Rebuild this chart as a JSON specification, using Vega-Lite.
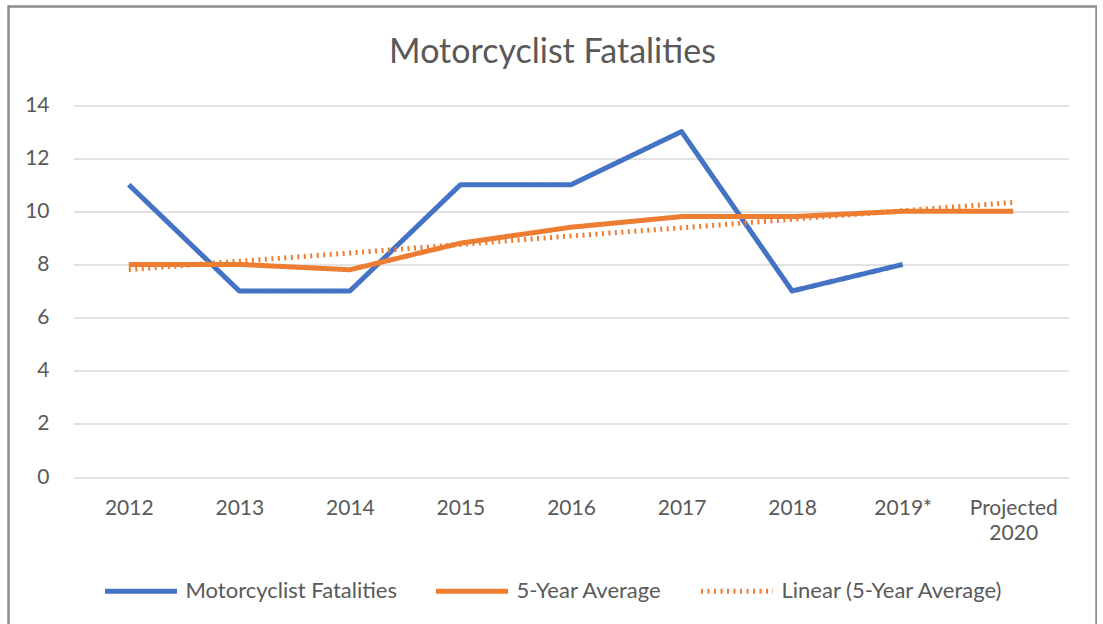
{
  "$schema": "https://vega.github.io/schema/vega-lite/v6.json",
  "autosize": {"type": "none"},
  "width": 1088,
  "height": 620,
  "padding": {"left": 8.5, "top": 6.5, "right": 0, "bottom": 0},
  "background": "white",
  "config": {
    "view": {"stroke": "#8c8c8c", "strokeWidth": 2.5},
    "font": "Lato",
    "legend": {"orient": "none", "legendX": 94, "legendY": 546, "direction": "horizontal", "padding": 0, "labelLimit": 0}
  },
  "title": {
    "text": "Motorcyclist Fatalities",
    "fontSize": 34,
    "font": "Lato",
    "fontWeight": "normal",
    "color": "#595959",
    "anchor": "middle",
    "frame": "group",
    "offset": -90,
    "baseline": "alphabetic"
  },
  "data": {
    "values": [
      {"series": "Motorcyclist Fatalities", "year": "2012", "value": 11},
      {"series": "Motorcyclist Fatalities", "year": "2013", "value": 7},
      {"series": "Motorcyclist Fatalities", "year": "2014", "value": 7},
      {"series": "Motorcyclist Fatalities", "year": "2015", "value": 11},
      {"series": "Motorcyclist Fatalities", "year": "2016", "value": 11},
      {"series": "Motorcyclist Fatalities", "year": "2017", "value": 13},
      {"series": "Motorcyclist Fatalities", "year": "2018", "value": 7},
      {"series": "Motorcyclist Fatalities", "year": "2019*", "value": 8},
      {"series": "5-Year Average", "year": "2012", "value": 8},
      {"series": "5-Year Average", "year": "2013", "value": 8},
      {"series": "5-Year Average", "year": "2014", "value": 7.8},
      {"series": "5-Year Average", "year": "2015", "value": 8.8},
      {"series": "5-Year Average", "year": "2016", "value": 9.4},
      {"series": "5-Year Average", "year": "2017", "value": 9.8},
      {"series": "5-Year Average", "year": "2018", "value": 9.8},
      {"series": "5-Year Average", "year": "2019*", "value": 10},
      {"series": "5-Year Average", "year": "Projected 2020", "value": 10},
      {"series": "Linear (5-Year Average)", "year": "2012", "value": 7.8},
      {"series": "Linear (5-Year Average)", "year": "2013", "value": 8.12},
      {"series": "Linear (5-Year Average)", "year": "2014", "value": 8.43},
      {"series": "Linear (5-Year Average)", "year": "2015", "value": 8.75},
      {"series": "Linear (5-Year Average)", "year": "2016", "value": 9.07},
      {"series": "Linear (5-Year Average)", "year": "2017", "value": 9.38},
      {"series": "Linear (5-Year Average)", "year": "2018", "value": 9.7},
      {"series": "Linear (5-Year Average)", "year": "2019*", "value": 10.02},
      {"series": "Linear (5-Year Average)", "year": "Projected 2020", "value": 10.33}
    ]
  },
  "mark": {"type": "line", "strokeJoin": "round", "strokeCap": "butt"},
  "encoding": {
    "x": {
      "field": "year",
      "type": "ordinal",
      "sort": ["2012", "2013", "2014", "2015", "2016", "2017", "2018", "2019*", "Projected 2020"],
      "scale": {
        "domain": ["2012", "2013", "2014", "2015", "2016", "2017", "2018", "2019*", "Projected 2020"],
        "range": [65, 1060],
        "paddingInner": 0,
        "paddingOuter": 0
      },
      "axis": {
        "title": null,
        "labelAngle": 0,
        "domain": false,
        "ticks": false,
        "tickSize": 0,
        "grid": false,
        "labelPadding": 0,
        "offset": -129,
        "labelFontSize": 21,
        "labelFont": "Lato",
        "labelColor": "#595959",
        "labelBaseline": "top",
        "labelLineHeight": 25,
        "labelOverlap": false,
        "labelExpr": "datum.value == 'Projected 2020' ? ['Projected', '2020'] : datum.value"
      }
    },
    "y": {
      "field": "value",
      "type": "quantitative",
      "scale": {"domain": [0, 14], "range": [470.5, 98.5], "nice": false, "zero": true},
      "axis": {
        "title": null,
        "values": [0, 2, 4, 6, 8, 10, 12, 14],
        "domain": false,
        "ticks": false,
        "tickSize": 0,
        "grid": true,
        "gridColor": "#d9d9d9",
        "gridWidth": 1.5,
        "labelPadding": 0,
        "offset": -40.5,
        "labelFontSize": 21,
        "labelFont": "Lato",
        "labelColor": "#595959"
      }
    },
    "color": {
      "field": "series",
      "type": "nominal",
      "scale": {
        "domain": ["Motorcyclist Fatalities", "5-Year Average", "Linear (5-Year Average)"],
        "range": ["#4472C4", "#ED7D31", "#ED7D31"]
      },
      "legend": {
        "title": null,
        "orient": "none",
        "legendX": 94,
        "legendY": 546,
        "direction": "horizontal",
        "symbolType": "stroke",
        "symbolSize": 5184,
        "labelFontSize": 22,
        "labelFont": "Lato",
        "labelColor": "#595959",
        "labelLimit": 0,
        "columnPadding": 28,
        "labelOffset": 6,
        "padding": 0
      }
    },
    "strokeDash": {
      "field": "series",
      "type": "nominal",
      "scale": {
        "domain": ["Motorcyclist Fatalities", "5-Year Average", "Linear (5-Year Average)"],
        "range": [[1, 0], [1, 0], [2, 4.5]]
      },
      "legend": {"title": null}
    },
    "strokeWidth": {
      "field": "series",
      "type": "nominal",
      "scale": {
        "domain": ["Motorcyclist Fatalities", "5-Year Average", "Linear (5-Year Average)"],
        "range": [5, 5, 2.5]
      },
      "legend": {"title": null}
    }
  }
}
